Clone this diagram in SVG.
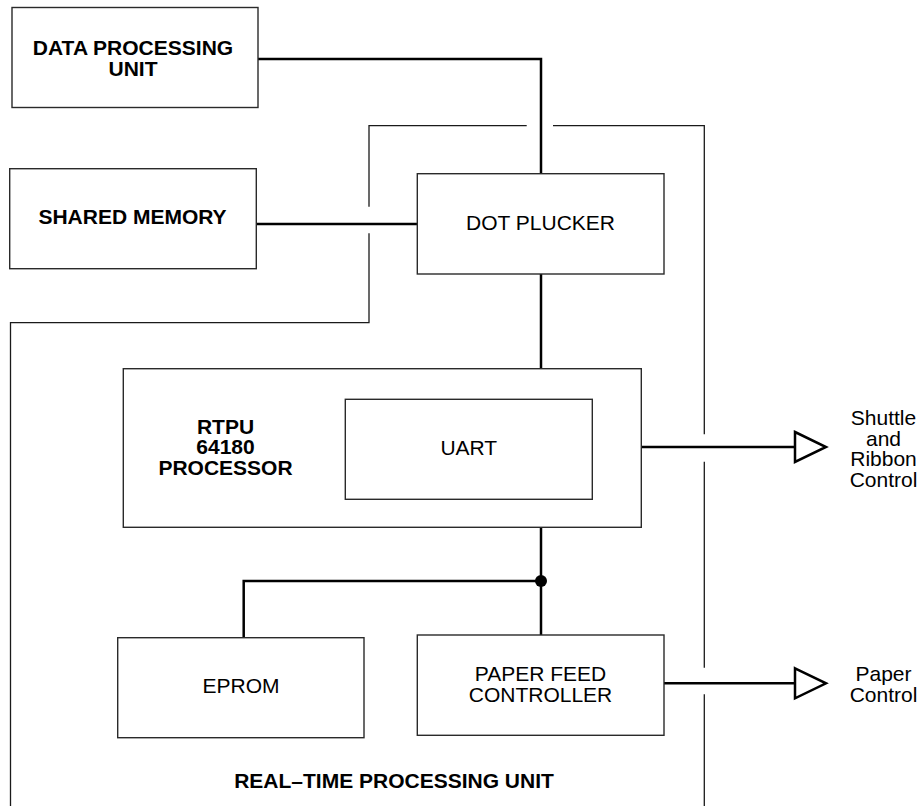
<svg xmlns="http://www.w3.org/2000/svg" width="921" height="806" viewBox="0 0 921 806">
<style>
.box{fill:#fff;stroke:#2a2a2a;stroke-width:1.4}
.bd{fill:none;stroke:#1a1a1a;stroke-width:1.3}
.cn{fill:none;stroke:#000;stroke-width:2.5}
.tri{fill:#fff;stroke:#000;stroke-width:2.5;stroke-linejoin:miter}
text{font-family:"Liberation Sans",Arial,sans-serif;font-size:21px;fill:#000;text-anchor:middle}
.b{font-weight:bold}
</style>
<rect width="921" height="806" fill="#fff"/>
<g id="boundary">
<path class="bd" d="M10.5,806 V322.7 H369 V233.3"/>
<path class="bd" d="M369,206.7 V125.7 H526.7"/>
<path class="bd" d="M553,125.7 H704.3 V434.3"/>
<path class="bd" d="M704.3,461.7 V667.7"/>
<path class="bd" d="M704.3,694.3 V806"/>
</g>
<g id="connectors">
<path class="cn" d="M258,59 H541 V173.7"/>
<path class="cn" d="M256,224 H417.3"/>
<path class="cn" d="M541,274 V368.7"/>
<path class="cn" d="M541,527.3 V635"/>
<path class="cn" d="M541,581 H243.7 V637.7"/>
<circle cx="541" cy="581" r="6" fill="#000"/>
<path class="cn" d="M641.3,447 H795"/>
<polygon class="tri" points="795,432 826,447 795,462"/>
<path class="cn" d="M664,683.3 H795"/>
<polygon class="tri" points="795,668.3 826,683.3 795,698.3"/>
</g>
<g id="dpu">
<rect class="box" x="12" y="7.5" width="246" height="100"/>
<text class="b" x="133" y="55">DATA PROCESSING</text>
<text class="b" x="133" y="75.5">UNIT</text>
</g>
<g id="shared-memory">
<rect class="box" x="9.7" y="168.7" width="246.6" height="100"/>
<text class="b" x="132.5" y="224">SHARED MEMORY</text>
</g>
<g id="dot-plucker">
<rect class="box" x="417.3" y="173.7" width="246.7" height="100.3"/>
<text x="540.5" y="229.5">DOT PLUCKER</text>
</g>
<g id="rtpu">
<rect class="box" x="123.3" y="368.7" width="518" height="158.6"/>
<text class="b" x="225.5" y="433.5">RTPU</text>
<text class="b" x="225.5" y="454">64180</text>
<text class="b" x="225.5" y="474.5">PROCESSOR</text>
</g>
<g id="uart">
<rect class="box" x="345.3" y="399.3" width="247" height="100"/>
<text x="468.8" y="455">UART</text>
</g>
<g id="eprom">
<rect class="box" x="117.7" y="637.7" width="246.3" height="100"/>
<text x="241" y="692.7">EPROM</text>
</g>
<g id="paper-feed">
<rect class="box" x="417.3" y="635" width="246.7" height="100.3"/>
<text x="540.5" y="681">PAPER FEED</text>
<text x="540.5" y="701.7">CONTROLLER</text>
</g>
<g id="shuttle-label">
<text x="883.5" y="425">Shuttle</text>
<text x="883.5" y="446">and</text>
<text x="883.5" y="466">Ribbon</text>
<text x="883.5" y="486.7">Control</text>
</g>
<g id="paper-label">
<text x="883.5" y="681">Paper</text>
<text x="883.5" y="701.7">Control</text>
</g>
<text class="b" x="394" y="788.3">REAL–TIME PROCESSING UNIT</text>
</svg>
